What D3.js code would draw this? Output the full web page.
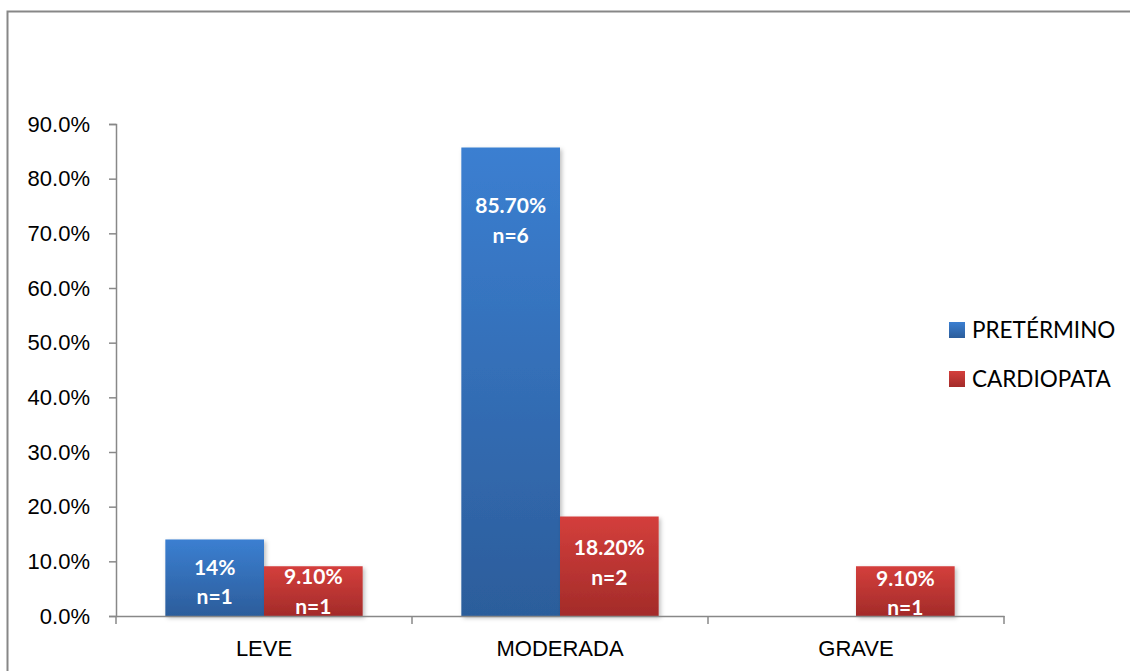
<!DOCTYPE html>
<html>
<head>
<meta charset="utf-8">
<script src="https://cdn.jsdelivr.net/npm/d3@7"></script>
<style>
  html, body { margin: 0; padding: 0; background: #fff; }
  svg { display: block; font-family: Lato, "Open Sans", sans-serif; }
</style>
</head>
<body>
<svg id="chart" width="1130" height="671"></svg>
<script>
// Severity categories and the share of each group falling in them
const categories = ["LEVE", "MODERADA", "GRAVE"];
const seriesNames = ["PRETÉRMINO", "CARDIOPATA"];
const pretermino = [14, 85.7, null];
const cardiopata = [9.1, 18.2, 9.1];
const pretLabels = ["14%\nn=1", "85.70%\nn=6", null];
const cardLabels = ["9.10%\nn=1", "18.20%\nn=2", "9.10%\nn=1"];
const yTicks = [0, 10, 20, 30, 40, 50, 60, 70, 80, 90];

// Where each label block sits, in axis units
const pretLabelAt = [6.2, 72.3, null];
const cardLabelAt = [4.5, 9.8, 4.2];

const svg = d3.select("#chart");
const W = 1130, H = 671;
const plot = { left: 116, right: 1004, top: 124, bottom: 616 };

// Outer frame of the chart area
svg.append("rect")
  .attr("x", 7.5).attr("y", 11.5)
  .attr("width", W + 20).attr("height", H + 20)
  .attr("fill", "#fff").attr("stroke", "#878787").attr("stroke-width", 2);

const defs = svg.append("defs");
function grad(id, top, bottom) {
  const g = defs.append("linearGradient").attr("id", id)
    .attr("x1", 0).attr("y1", 0).attr("x2", 0).attr("y2", 1);
  g.append("stop").attr("offset", "0%").attr("stop-color", top);
  g.append("stop").attr("offset", "100%").attr("stop-color", bottom);
}
grad("gBlue", "#3b7fd1", "#2c5d9b");
grad("gRed", "#d43f3c", "#a32b29");

const shadow = defs.append("filter").attr("id", "shadow")
  .attr("x", "-10%").attr("y", "-10%").attr("width", "130%").attr("height", "130%");
shadow.append("feDropShadow")
  .attr("dx", 2).attr("dy", 2).attr("stdDeviation", 2)
  .attr("flood-color", "#000").attr("flood-opacity", 0.25);

const x = d3.scaleBand().domain(categories)
  .range([plot.left, plot.right]).paddingInner(0).paddingOuter(0);
const inner = d3.scaleBand().domain(seriesNames)
  .range([x.bandwidth() / 6, x.bandwidth() * 5 / 6]);
const y = d3.scaleLinear().domain([0, 90]).range([plot.bottom, plot.top]);

const fills = ["url(#gBlue)", "url(#gRed)"];
const seriesData = [
  { name: seriesNames[0], values: pretermino, labels: pretLabels, at: pretLabelAt, fill: fills[0] },
  { name: seriesNames[1], values: cardiopata, labels: cardLabels, at: cardLabelAt, fill: fills[1] }
];

// Y axis
const yAxis = d3.axisLeft(y).tickValues(yTicks)
  .tickFormat(d => d.toFixed(1) + "%").tickSize(7).tickPadding(19);
const gy = svg.append("g").attr("transform", `translate(${plot.left},0)`).call(yAxis);
gy.select(".domain").attr("stroke", "#888").attr("stroke-width", 1.5);
gy.selectAll(".tick line").attr("stroke", "#888").attr("stroke-width", 1.5);
gy.selectAll(".tick text").attr("fill", "#000").attr("font-size", 22);

// Bars
seriesData.forEach(s => {
  svg.append("g").selectAll("rect")
    .data(categories.map((c, i) => ({ c, v: s.values[i] })).filter(d => d.v != null))
    .join("rect")
    .attr("x", d => x(d.c) + inner(s.name))
    .attr("y", d => y(d.v))
    .attr("width", inner.bandwidth())
    .attr("height", d => y(0) - y(d.v))
    .attr("fill", s.fill)
    .attr("filter", "url(#shadow)");
});

// X axis
const xAxis = d3.axisBottom(x).tickSize(0).tickPadding(24);
const gx = svg.append("g").attr("transform", `translate(0,${plot.bottom})`).call(xAxis);
gx.select(".domain").attr("stroke", "#888").attr("stroke-width", 1.5);
gx.selectAll(".tick text").attr("fill", "#000").attr("font-size", 22);
// Category boundary ticks
const bounds = categories.map(c => x(c)).concat([plot.right]);
gx.selectAll(".bound").data(bounds).join("line")
  .attr("x1", d => d).attr("x2", d => d).attr("y1", 0).attr("y2", 8)
  .attr("stroke", "#888").attr("stroke-width", 1.5);

// Value labels inside the bars
seriesData.forEach(s => {
  categories.forEach((c, i) => {
    if (s.labels[i] == null) return;
    const lines = s.labels[i].split("\n");
    const cx = x(c) + inner(s.name) + inner.bandwidth() / 2;
    const cy = y(s.at[i]);
    const t = svg.append("text")
      .attr("text-anchor", "middle").attr("fill", "#fff")
      .attr("font-weight", "bold").attr("font-size", 21);
    lines.forEach((ln, k) => {
      t.append("tspan").attr("x", cx)
        .attr("y", cy + (k - (lines.length - 1) / 2) * 29.5)
        .attr("dy", "0.35em").text(ln);
    });
  });
});

// Legend
const legend = svg.append("g").attr("transform", "translate(949,330)");
seriesData.forEach((s, i) => {
  const g = legend.append("g").attr("transform", `translate(0,${i * 49})`);
  g.append("rect").attr("x", 0).attr("y", -8).attr("width", 16).attr("height", 16).attr("fill", s.fill);
  g.append("text").attr("x", 23).attr("y", 0).attr("dy", "0.35em")
    .attr("font-size", 22.5).attr("fill", "#000").text(s.name);
});
</script>
</body>
</html>
